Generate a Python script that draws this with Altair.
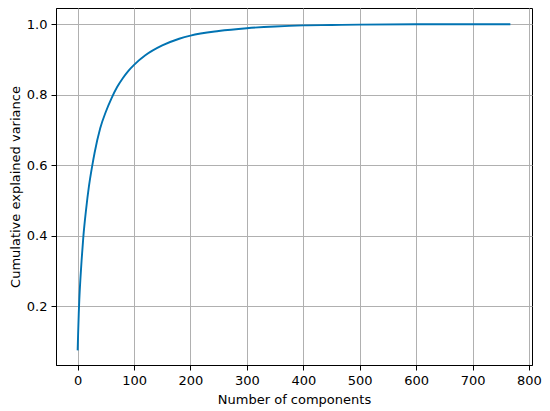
import altair as alt
import pandas as pd

components = [0, 1, 2, 3, 5, 7, 10, 15, 20, 26, 30, 40, 50, 60, 70, 80, 90, 100, 120, 150,
              180, 200, 250, 300, 350, 400, 450, 500, 600, 700, 767]
cum_var = [0.075, 0.13, 0.18, 0.22, 0.28, 0.33, 0.395, 0.475, 0.54, 0.60, 0.635, 0.705, 0.752,
           0.79, 0.822, 0.847, 0.868, 0.885, 0.912, 0.940, 0.959, 0.968, 0.981, 0.989, 0.994,
           0.997, 0.998, 0.999, 1.0, 1.0, 1.0]
x_ticks = [0, 100, 200, 300, 400, 500, 600, 700, 800]
y_ticks = [0.2, 0.4, 0.6, 0.8, 1.0]

df = pd.DataFrame({"n": components, "v": cum_var})

font = "DejaVu Sans"

chart = alt.Chart(df).mark_line(color="#0173b2", strokeWidth=1.9, interpolate="monotone").encode(
    x=alt.X("n:Q", title="Number of components",
            scale=alt.Scale(domain=[-38.35, 805.35], nice=False, zero=False),
            axis=alt.Axis(values=x_ticks, format="d", titlePadding=6)),
    y=alt.Y("v:Q", title="Cumulative explained variance",
            scale=alt.Scale(domain=[0.0335, 1.0463], nice=False, zero=False),
            axis=alt.Axis(values=y_ticks, format=".1f", titlePadding=4)),
).properties(
    width=476, height=357,
    autosize=alt.AutoSizeParams(type="none"),
    padding={"left": 48, "top": 0, "right": 10, "bottom": 46},
).configure_view(
    stroke="black", strokeWidth=1
).configure_axis(
    domainColor="black", domainWidth=1,
    tickColor="black", tickSize=5, tickWidth=1,
    gridColor="#b0b0b0", gridWidth=1,
    labelFont=font, labelFontSize=13, labelColor="black", labelPadding=4,
    labelOverlap=False, labelBound=False, labelFlush=False,
    titleFont=font, titleFontSize=13, titleColor="black", titleFontWeight="normal",
)

chart.save("out.html", embed_options={"renderer": "svg", "actions": False})
